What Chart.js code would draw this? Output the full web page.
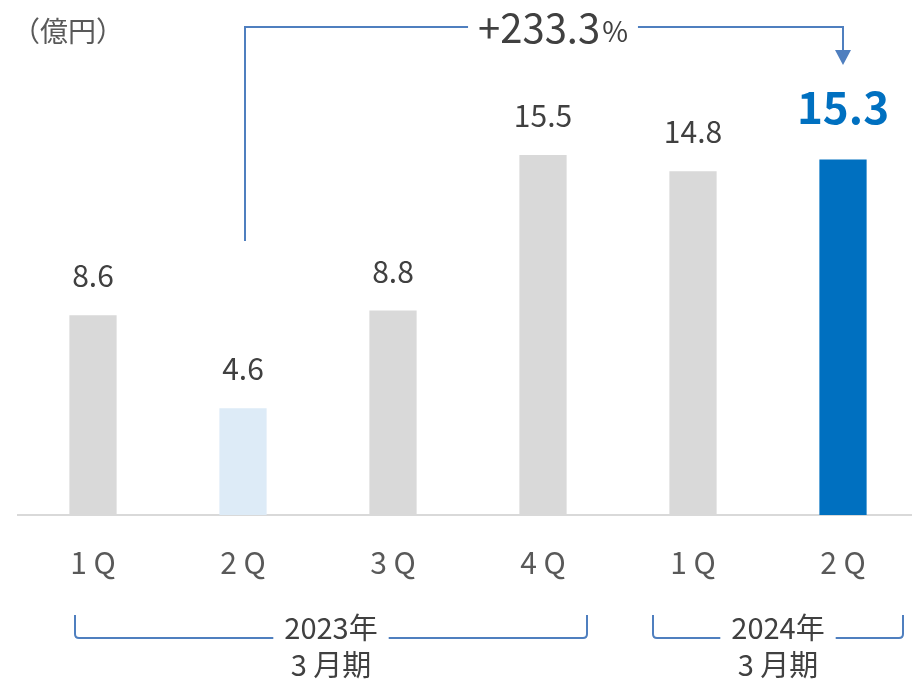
<!DOCTYPE html>
<html>
<head>
<meta charset="utf-8">
<script src="https://cdn.jsdelivr.net/npm/chart.js@4"></script>
<style>
  html, body { margin: 0; padding: 0; background: #fff; overflow: hidden; }
  #wrap { width: 918px; height: 681px; position: relative; }
</style>
</head>
<body>
<div id="wrap"><canvas id="salesChart"></canvas></div>
<script>
// data
const quarterLabels = ['1 Q', '2 Q', '3 Q', '4 Q', '1 Q', '2 Q'];
const salesValues = [8.6, 4.6, 8.8, 15.5, 14.8, 15.3];
const barColors = ['#D9D9D9', '#DDEBF7', '#D9D9D9', '#D9D9D9', '#D9D9D9', '#0070C0'];
const yearLabels = ['2023年', '2024年'];
const periodLabels = ['3 月期', '3 月期'];
const yearFrom = [0, 4];
const yearTo = [3, 5];
const growthText = '+233.3';
const growthFrom = 1;
const growthTo = 5;
const unitLabel = '（億円）';

const FONT = '"Noto Sans CJK JP", "Noto Sans", sans-serif';
const LINE_BLUE = '#4F7FBF';

// brackets under the axis, pixel offsets from first/last bar centre
const bracketPad = [[-18, 44], [-40, 60]];

function roundedBracket(ctx, x1, x2, top, bottom) {
    const r = 4;
    ctx.beginPath();
    ctx.moveTo(x1, top);
    ctx.lineTo(x1, bottom - r);
    ctx.quadraticCurveTo(x1, bottom, x1 + r, bottom);
    ctx.lineTo(x2 - r, bottom);
    ctx.quadraticCurveTo(x2, bottom, x2, bottom - r);
    ctx.lineTo(x2, top);
}

const extras = {
    id: 'extras',
    afterDatasetsDraw(chart) {
        const ctx = chart.ctx;
        const bars = chart.getDatasetMeta(0).data;
        const yScale = chart.scales.y;
        const area = chart.chartArea;

        ctx.save();
        // value labels
        ctx.textAlign = 'center';
        ctx.textBaseline = 'alphabetic';
        bars.forEach((bar, i) => {
            const last = i === bars.length - 1;
            ctx.fillStyle = last ? '#0070C0' : '#404040';
            ctx.font = last ? 'bold 44px ' + FONT : '30px ' + FONT;
            ctx.fillText(salesValues[i].toFixed(1), bar.x, bar.y - (last ? 36 : 28));
        });

        // unit
        ctx.textAlign = 'left';
        ctx.fillStyle = '#595959';
        ctx.font = '28px ' + FONT;
        ctx.fillText(unitLabel, 12, 42);

        // growth annotation
        const xa = bars[growthFrom].x + 2;
        const xb = bars[growthTo].x;
        const lineY = area.top + 23;
        const startY = yScale.getPixelForValue(11.8);
        ctx.font = '40px ' + FONT;
        const numW = ctx.measureText(growthText).width;
        ctx.font = '28px ' + FONT;
        const pctW = ctx.measureText('%').width;
        const textW = numW + pctW;
        const textX = (xa + xb) / 2 - textW / 2 + 8;

        ctx.strokeStyle = LINE_BLUE;
        ctx.lineWidth = 2;
        ctx.beginPath();
        ctx.moveTo(xa, startY);
        ctx.lineTo(xa, lineY);
        ctx.lineTo(textX - 10, lineY);
        ctx.moveTo(textX + textW + 12, lineY);
        ctx.lineTo(xb, lineY);
        ctx.lineTo(xb, lineY + 24);
        ctx.stroke();
        ctx.fillStyle = LINE_BLUE;
        ctx.beginPath();
        ctx.moveTo(xb - 8, lineY + 23);
        ctx.lineTo(xb + 8, lineY + 23);
        ctx.lineTo(xb, lineY + 38);
        ctx.closePath();
        ctx.fill();

        ctx.fillStyle = '#404040';
        ctx.textAlign = 'left';
        ctx.textBaseline = 'middle';
        ctx.font = '40px ' + FONT;
        ctx.fillText(growthText, textX, lineY + 1);
        ctx.font = '28px ' + FONT;
        ctx.fillText('%', textX + numW + 2, lineY + 4);

        // fiscal year brackets
        const top = area.bottom + 100;
        const bottom = area.bottom + 123;
        yearLabels.forEach((yl, g) => {
            const x1 = bars[yearFrom[g]].x + bracketPad[g][0];
            const x2 = bars[yearTo[g]].x + bracketPad[g][1];
            const cx = (x1 + x2) / 2;
            ctx.font = '29px ' + FONT;
            const w = ctx.measureText(yl).width;
            ctx.save();
            roundedBracket(ctx, x1, x2, top, bottom);
            ctx.strokeStyle = LINE_BLUE;
            ctx.lineWidth = 2;
            ctx.stroke();
            ctx.restore();
            ctx.fillStyle = '#fff';
            ctx.fillRect(cx - w / 2 - 11, bottom - 5, w + 22, 10);
            ctx.fillStyle = '#404040';
            ctx.textAlign = 'center';
            ctx.textBaseline = 'middle';
            ctx.fillText(yl, cx, bottom - 10);
            ctx.fillText(periodLabels[g], cx, bottom + 27);
        });
        ctx.restore();
    }
};

new Chart(document.getElementById('salesChart'), {
    type: 'bar',
    data: {
        labels: quarterLabels,
        datasets: [{
            data: salesValues,
            backgroundColor: barColors,
            barPercentage: 0.315,
            categoryPercentage: 1.0,
        }],
    },
    options: {
        responsive: true,
        maintainAspectRatio: false,
        animation: false,
        events: [],
        layout: { padding: { left: 18, right: 0, top: 4, bottom: 70 } },
        plugins: { legend: { display: false }, tooltip: { enabled: false } },
        scales: {
            x: {
                grid: { display: false, drawTicks: false },
                border: { display: true, color: '#D9D9D9', width: 2 },
                ticks: {
                    color: '#595959',
                    font: { family: FONT, size: 30 },
                    padding: 30,
                },
            },
            y: {
                display: false,
                min: 0,
                max: 22,
            },
        },
    },
    plugins: [extras],
});
</script>
</body>
</html>
